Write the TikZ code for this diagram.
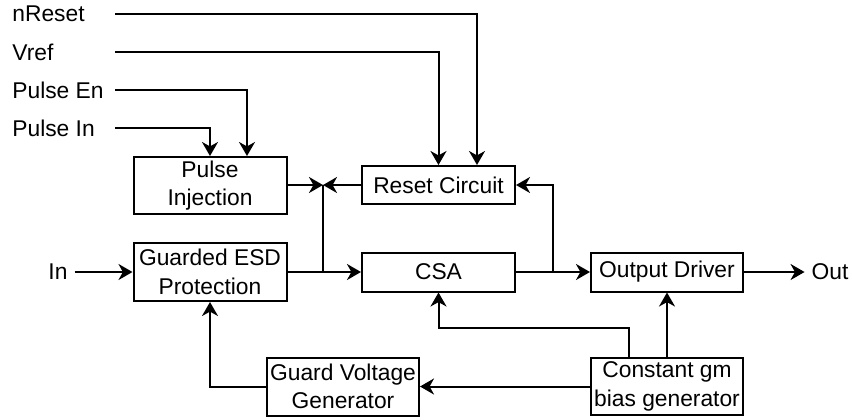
\documentclass[tikz,border=0pt]{standalone}
\usepackage{fontspec}
\setmainfont{Liberation Sans}
\usetikzlibrary{arrows.meta}

\begin{document}
\begin{tikzpicture}[
    x=0.5pt, y=-0.5pt,
    font=\fontsize{11.4}{14.2}\selectfont,
    box/.style={draw, line width=1pt, align=center, inner sep=0pt, minimum width=76.5pt},
    wire/.style={line width=1pt},
    sig/.style={anchor=west, inner sep=0pt},
    >={Stealth[length=7pt, width=8pt, inset=2.2pt]}
  ]
  \useasboundingbox (0,0) rectangle (852,419);
  % blocks
  \node[box, minimum height=28.5pt] (pulse) at (210,185.5) {Pulse\\Injection};
  \node[box, minimum height=29pt] (esd) at (210,272) {Guarded ESD\\Protection};
  \node[box, minimum height=19pt] (reset) at (438.5,185) {Reset Circuit};
  \node[box, minimum height=19.5pt] (csa) at (438.5,272) {CSA};
  \node[box, minimum height=19.5pt, minimum width=76pt] (outdrv) at (667,272) {Output Driver};
  \node[box, minimum height=28.5pt, minimum width=76pt] (bias) at (667,386.5) {Constant gm\\bias generator};
  \node[box, minimum height=29pt, minimum width=76pt] (guard) at (343,386.5) {Guard Voltage\\Generator};
  % signal names
  \node[sig] (nreset) at (12,14) {nReset};
  \node[sig] (vref) at (12,52) {Vref};
  \node[sig] (pen) at (12,90) {Pulse En};
  \node[sig] (pin) at (12,128) {Pulse In};
  \node (in) at (58,272) {In};
  \node (out) at (830,272) {Out};
  \coordinate (nr) at (115,14);
  \coordinate (vr) at (115,52);
  \coordinate (pe) at (115,90);
  \coordinate (pi) at (115,128);
  \coordinate (jn) at (323,185);
  \coordinate (jo) at (553,272);
  \coordinate (bt) at (629,328);
  % connections
  \draw[wire,->] (nr) -| ([xshift=19.25pt]reset.north);
  \draw[wire,->] (vr) -| (reset.north);
  \draw[wire,->] (pe) -| ([xshift=18.5pt]pulse.north);
  \draw[wire,->] (pi) -| (pulse.north);
  \draw[wire,->] (pulse.east |- jn) -- (jn);
  \draw[wire,->] (reset.west) -- (jn);
  \draw[wire] (jn) -- (jn |- csa.west);
  \draw[wire,->] (in) -- (esd.west);
  \draw[wire,->] (esd.east) -- (csa.west);
  \draw[wire,->] (csa.east) -- (outdrv.west);
  \draw[wire,->] (jo) |- (reset.east);
  \draw[wire,->] (outdrv.east) -- (out);
  \draw[wire,->] (bias.north -| bt) -- (bt) -| (csa.south);
  \draw[wire,->] (bias.north) -- (outdrv.south);
  \draw[wire,->] (bias.west) -- (guard.east);
  \draw[wire,->] (guard.west) -| (esd.south);
\end{tikzpicture}
\end{document}
